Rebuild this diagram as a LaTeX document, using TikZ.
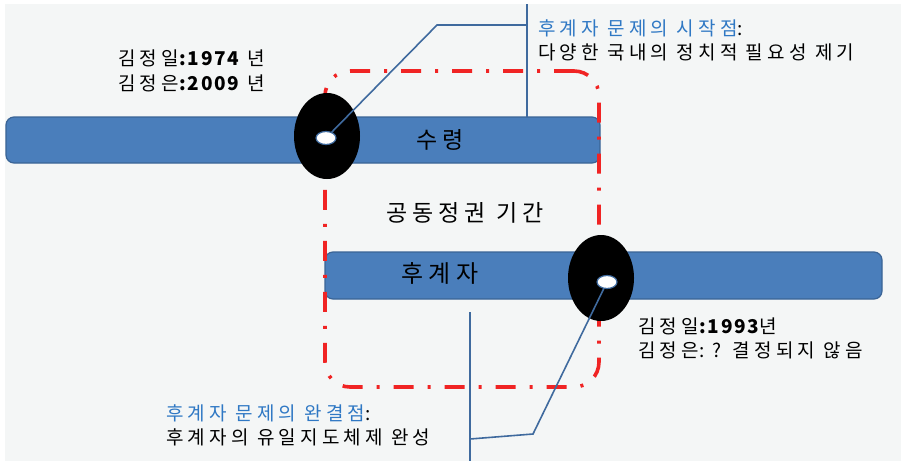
\documentclass[tikz,border=0pt]{standalone}
\usepackage{fontspec}
\setmainfont{Noto Sans CJK KR}[LetterSpace=22]
\newfontfamily\nls{Noto Sans CJK KR}[LetterSpace=10]
\usetikzlibrary{shapes.geometric}
\definecolor{bg}{HTML}{F4F6F6}
\definecolor{barfill}{HTML}{4A7EBB}
\definecolor{barline}{HTML}{3A6496}
\definecolor{redd}{HTML}{F02424}
\definecolor{bluetext}{HTML}{2F78C4}
\definecolor{connc}{HTML}{3F6A9E}
\begin{document}
\begin{tikzpicture}[x=1pt,y=-1pt,
  bar/.style={draw=barline, line width=1.2pt, fill=barfill, rounded corners=8pt, inner sep=0pt},
  bartext/.style={font=\fontsize{23}{26}\selectfont, text=black},
  lbl/.style={font=\fontsize{19}{22}\selectfont, anchor=west, inner sep=0pt, text=black},
  blbl/.style={lbl, text=bluetext},
  blob/.style={ellipse, fill=black, minimum width=66pt, minimum height=86pt, inner sep=0pt},
  dot/.style={ellipse, fill=white, draw=connc, line width=1.2pt, minimum width=20pt, minimum height=13pt, inner sep=0pt},
  conn/.style={draw=connc, line width=1.6pt},
  period/.style={draw=redd, line width=3.6pt, rounded corners=25pt, dash pattern=on 20pt off 14pt on 3pt off 14pt, inner sep=0pt}
]
\useasboundingbox (0,0) rectangle (901,461);
\fill[white] (0,0) rectangle (901,461);
\fill[bg] (5,4) rectangle (901,461);

% bars
\node[bar, minimum width=594pt, minimum height=46pt] (bar1) at (303,140) {};
\node[bar, minimum width=557pt, minimum height=47pt] (bar2) at (603.5,275.5) {};

% joint period
\node[period, minimum width=274pt, minimum height=316pt] (period) at (462,229) {};

% blobs
\node[blob] (blob1) at (327,136) {};
\node[blob] (blob2) at (601,278) {};

% connectors
\coordinate (d1) at (326,138);
\coordinate (d2) at (607,282);
\coordinate (k1) at (437,25);
\coordinate (k2) at (527,25);
\coordinate (v1a) at (527,4);
\coordinate (v1b) at (527,117);
\coordinate (k3) at (533,434);
\coordinate (k4) at (470,439);
\coordinate (v2a) at (470,312);
\coordinate (v2b) at (470,461);
\draw[conn] (d1) -- (k1) -- (k2);
\draw[conn] (v1a) -- (v1b);
\draw[conn] (d2) -- (k3) -- (k4);
\draw[conn] (v2a) -- (v2b);

\node[dot] (dot1) at (d1) {};
\node[dot] (dot2) at (d2) {};

% bar texts
\node[bartext] (t_sr) at (440,140) {수령};
\node[bartext, font=\fontsize{24}{26}\selectfont] (t_hg) at (440,273) {후계자};
\node[bartext] (t_gd) at (465,213) {공동정권 기간};

% labels
\node[blbl] (start1) at (538,28) {후계자 문제의 시작점\textcolor{black}{:}};
\node[lbl] (start2) at (538,52) {다양한 국내의 정치적 필요성 제기};
\node[lbl] (kj1) at (118,58) {김정일{\nls\bfseries :1974} 년};
\node[lbl] (kj2) at (118,83) {김정은{\nls\bfseries :2009} 년};
\node[lbl] (kj3) at (638,326) {김정일{\nls\bfseries :1993}년};
\node[lbl] (kj4) at (638,350) {김정은{\nls : ?} 결정되지 않음};
\node[blbl] (end1) at (166,413) {후계자 문제의 완결점\textcolor{black}{:}};
\node[lbl] (end2) at (166,437) {후계자의 유일지도체제 완성};
\end{tikzpicture}
\end{document}
